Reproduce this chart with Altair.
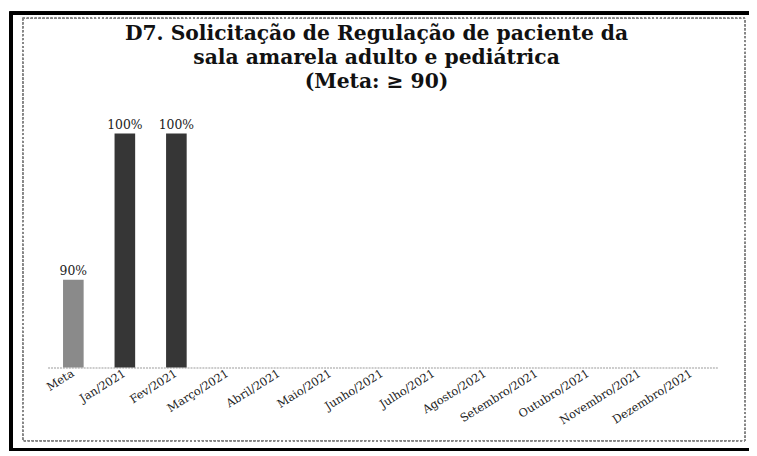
import altair as alt
import pandas as pd

categories = ["Meta", "Jan/2021", "Fev/2021", "Março/2021", "Abril/2021", "Maio/2021",
              "Junho/2021", "Julho/2021", "Agosto/2021", "Setembro/2021", "Outubro/2021",
              "Novembro/2021", "Dezembro/2021"]
values = [90, 100, 100, None, None, None, None, None, None, None, None, None, None]
labels = ["90%", "100%", "100%", "", "", "", "", "", "", "", "", "", ""]
kinds = ["meta", "mes", "mes", "mes", "mes", "mes", "mes", "mes", "mes", "mes", "mes", "mes", "mes"]

df = pd.DataFrame({"cat": categories, "v": values, "lab": labels, "kind": kinds})

W, H = 677, 266
SERIF = "DejaVu Serif"

xscale = alt.Scale(domain=categories, paddingInner=0.6, paddingOuter=0.3)
xenc = alt.X("cat:N", sort=categories, scale=xscale,
             axis=alt.Axis(title=None, labelAngle=-32, labelFont=SERIF, labelFontSize=11.5,
                           labelColor="#222", ticks=False, domainColor="#999", domainDash=[2, 1],
                           labelPadding=5, labelAlign="right", labelBaseline="middle"))
yscale = alt.Scale(domain=[84, 102], zero=False, nice=False)

bars = alt.Chart(df).mark_bar().encode(
    x=xenc,
    y=alt.Y("v:Q", scale=yscale, axis=None),
    y2=alt.datum(84),
    color=alt.Color("kind:N", scale=alt.Scale(domain=["meta", "mes"], range=["#8a8a8a", "#363636"]), legend=None),
)

text = alt.Chart(df).mark_text(font=SERIF, fontSize=12.5, dy=-9, color="#222").encode(
    x=alt.X("cat:N", sort=categories, scale=xscale),
    y=alt.Y("v:Q", scale=yscale),
    text="lab:N",
)

outer = alt.Chart(df).mark_rect(fill=None, stroke="black", strokeWidth=3).encode(
    x=alt.value(-37), x2=alt.value(720), y=alt.value(-92), y2=alt.value(349))
inner = alt.Chart(df).mark_rect(fill=None, stroke="#888", strokeWidth=1, strokeDash=[2, 2]).encode(
    x=alt.value(-25), x2=alt.value(705), y=alt.value(-87), y2=alt.value(340))

chart = alt.layer(outer, inner, bars, text).properties(
    width=W, height=H,
    title=alt.TitleParams(
        text=["D7. Solicitação de Regulação de paciente da",
              "sala amarela adulto e pediátrica",
              "(Meta: ≥ 90)"],
        font=SERIF, fontSize=20.5, fontWeight="bold", color="#111", lineHeight=24,
        anchor="middle", offset=-81, dx=-6, frame="group"),
    padding={"left": 40, "top": 95, "right": 32, "bottom": 84},
    autosize=alt.AutoSizeParams(type="none"),
).configure(background="white").configure_view(stroke=None)

chart.save("out.html", embed_options={"renderer": "svg", "actions": False})
